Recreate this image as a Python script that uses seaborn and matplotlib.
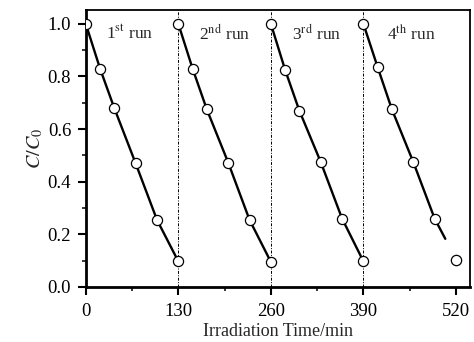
import matplotlib
matplotlib.use("Agg")
import matplotlib.pyplot as plt
from matplotlib.ticker import MultipleLocator
import seaborn as sns
import pandas as pd

# data
run_times = [0, 20, 40, 70, 100, 130]
run1 = [1.0, 0.83, 0.68, 0.47, 0.255, 0.097]
run2 = [1.0, 0.83, 0.675, 0.473, 0.255, 0.095]
run3 = [1.0, 0.825, 0.67, 0.475, 0.26, 0.097]
run4 = [1.0, 0.835, 0.675, 0.475, 0.26]
run4_tail_x = [490, 505]
run4_tail_y = [0.26, 0.183]
last_x = [520]
last_y = [0.103]
run_offsets = [0, 130, 260, 390]
run_labels = [r"1$^{\mathrm{st}}$ run", r"2$^{\mathrm{nd}}$ run",
              r"3$^{\mathrm{rd}}$ run", r"4$^{\mathrm{th}}$ run"]
label_x = [28, 159, 290, 423]
xticks = [0, 130, 260, 390, 520]

sns.set_theme(style="ticks")
plt.rcParams["font.family"] = ["Liberation Serif", "DejaVu Serif"]
plt.rcParams["mathtext.fontset"] = "stix"

fig = plt.figure(figsize=(4.74, 3.42), dpi=100)
ax = fig.add_axes([0.181, 0.161, 0.811, 0.81])

series = [run1, run2, run3, run4]
rows = []
for i, (off, ys) in enumerate(zip(run_offsets, series)):
    for t, y in zip(run_times, ys):
        rows.append({"t": off + t, "c": y, "run": i})
df = pd.DataFrame(rows)

for x in run_offsets[1:]:
    ax.axvline(x, color="black", lw=0.7, ls=(0, (3, 1.5, 1, 1.5)), zorder=1)

for i in range(4):
    sub = df[df["run"] == i]
    sns.lineplot(data=sub, x="t", y="c", ax=ax, color="black", lw=1.7,
                 marker="o", markersize=7.3, markerfacecolor="white",
                 markeredgecolor="black", markeredgewidth=0.9, zorder=3)

tail = pd.DataFrame({"t": run4_tail_x, "c": run4_tail_y})
sns.lineplot(data=tail, x="t", y="c", ax=ax, color="black", lw=1.7, zorder=2)
lastdf = pd.DataFrame({"t": last_x, "c": last_y})
sns.scatterplot(data=lastdf, x="t", y="c", ax=ax, s=55, facecolor="white",
                edgecolor="black", linewidth=0.9, zorder=3)

for lx, lab in zip(label_x, run_labels):
    ax.text(lx, 0.962, lab, fontsize=12.5, va="center", ha="left")

ax.set_xlim(0, 540)
ax.set_ylim(0, 1.053)
ax.set_xticks(xticks)
ax.xaxis.set_minor_locator(MultipleLocator(65))
ax.yaxis.set_major_locator(MultipleLocator(0.2))
ax.yaxis.set_minor_locator(MultipleLocator(0.1))
ax.set_yticklabels([f"{v:.1f}" for v in ax.get_yticks()])
ax.tick_params(which="major", direction="out", length=5.5, width=1.5,
               labelsize=13.5, colors="black")
ax.tick_params(axis="x", which="major", pad=6)
ax.tick_params(axis="y", which="major", pad=5)
ax.tick_params(which="minor", direction="out", length=3, width=1.3)
ax.tick_params(top=False, right=False, which="both")

for s in ["left", "bottom"]:
    ax.spines[s].set_linewidth(2.0)
for s in ["top", "right"]:
    ax.spines[s].set_linewidth(1.3)
for s in ax.spines.values():
    s.set_color("black")

ax.set_xlabel("Irradiation Time/min", fontsize=13, labelpad=2)
ax.set_ylabel(r"$C/C_0$", fontsize=14.5, labelpad=2)

fig.savefig("out.png", dpi=100)
